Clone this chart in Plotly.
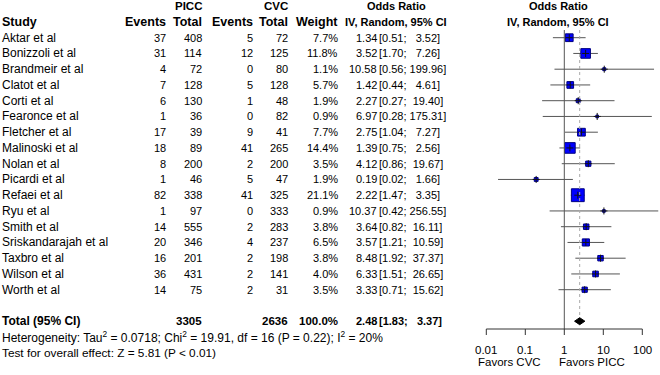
import math
import plotly.graph_objects as go

studies = ["Aktar et al", "Bonizzoli et al", "Brandmeir et al", "Clatot et al", "Corti et al",
           "Fearonce et al", "Fletcher et al", "Malinoski et al", "Nolan et al", "Picardi et al",
           "Refaei et al", "Ryu et al", "Smith et al", "Sriskandarajah et al", "Taxbro et al",
           "Wilson et al", "Worth et al"]
picc_events = [37, 31, 4, 7, 6, 1, 17, 18, 8, 1, 82, 1, 14, 20, 16, 36, 14]
picc_total = [408, 114, 72, 128, 130, 36, 39, 89, 200, 46, 338, 97, 555, 346, 201, 431, 75]
cvc_events = [5, 12, 0, 5, 1, 0, 9, 41, 2, 5, 41, 0, 2, 4, 2, 2, 2]
cvc_total = [72, 125, 80, 128, 48, 82, 41, 265, 200, 47, 325, 333, 283, 237, 198, 141, 31]
weights = [7.7, 11.8, 1.1, 5.7, 1.9, 0.9, 7.7, 14.4, 3.5, 1.9, 21.1, 0.9, 3.8, 6.5, 3.8, 4.0, 3.5]
odds = [1.34, 3.52, 10.58, 1.42, 2.27, 6.97, 2.75, 1.39, 4.12, 0.19, 2.22, 10.37, 3.64, 3.57, 8.48, 6.33, 3.33]
ci_low = [0.51, 1.70, 0.56, 0.44, 0.27, 0.28, 1.04, 0.75, 0.86, 0.02, 1.47, 0.42, 0.82, 1.21, 1.92, 1.51, 0.71]
ci_high = [3.52, 7.26, 199.96, 4.61, 19.40, 175.31, 7.27, 2.56, 19.67, 1.66, 3.35, 256.55, 16.11, 10.59, 37.37, 26.65, 15.62]
total_picc = 3305
total_cvc = 2636
pooled = [2.48, 1.83, 3.37]
axis_ticks = [0.01, 0.1, 1, 10, 100]
axis_tick_labels = ["0.01", "0.1", "1", "10", "100"]
heterogeneity = "Heterogeneity: Tau<sup>2</sup> = 0.0718; Chi<sup>2</sup> = 19.91, df = 16 (P = 0.22); I<sup>2</sup> = 20%"
overall = "Test for overall effect: Z = 5.81 (P < 0.01)"

W, H = 660, 375
ROW0, ROWH = 37.7, 15.75
FONT = "Liberation Sans, Arial, sans-serif"
FS = 11
NB = "\u00a0"


def row_of(py):
    return (py - ROW0) / ROWH


def px(x):
    return x / W


fig = go.Figure()
ann = []


def txt(x, r, s, anchor="left", bold=False, size=FS):
    if bold:
        s = "<b>" + s + "</b>"
    ann.append(dict(x=px(x), y=r, xref="paper", yref="y", text=s, showarrow=False,
                    xanchor=anchor, yanchor="middle", borderpad=0, borderwidth=0,
                    font=dict(family=FONT, size=size, color="black")))


# column positions
X_STUDY, X_PE, X_PT, X_CE, X_CT, X_W = 2, 166, 202, 252.5, 287.5, 338
X_OR, X_CI = 376.5, 379
X_ORHEAD, X_FHEAD = 396.5, 558
HS = 12.5

# headers
txt(X_PT, -2, "PICC", "right", True, 11.5)
txt(X_CT, -2, "CVC", "right", True, 11.5)
txt(X_ORHEAD, -2, "Odds Ratio", "center", True)
txt(X_FHEAD, -2, "Odds Ratio", "center", True)
txt(X_STUDY, -1, "Study", "left", True, HS)
txt(X_PE, -1, "Events", "right", True, HS)
txt(X_PT, -1, "Total", "right", True, HS)
txt(X_CE, -1, "Events", "right", True, HS)
txt(X_CT, -1, "Total", "right", True, HS)
txt(X_W, -1, "Weight", "right", True, HS)
txt(X_ORHEAD, -1, "IV, Random, 95% CI", "center", True)
txt(X_FHEAD, -1, "IV, Random, 95% CI", "center", True)


def ci_text(lo, hi):
    up = f"{hi:6.2f}".replace(" ", NB)
    return f"[{lo:.2f};{NB}{up}]"


for i, s in enumerate(studies):
    r = i
    txt(X_STUDY, r, s, size=12)
    txt(X_PE, r, str(picc_events[i]), "right")
    txt(X_PT, r, str(picc_total[i]), "right")
    txt(X_CE, r, str(cvc_events[i]), "right")
    txt(X_CT, r, str(cvc_total[i]), "right")
    txt(X_W, r, f"{weights[i]:.1f}%", "right")
    txt(X_OR, r, f"{odds[i]:.2f}", "right")
    txt(X_CI, r, ci_text(ci_low[i], ci_high[i]), "left")

RT = len(studies) + 1
txt(X_STUDY, RT, "Total (95% CI)", "left", True, 12)
txt(X_PT, RT, str(total_picc), "right", True, 11.5)
txt(X_CT, RT, str(total_cvc), "right", True, 11.5)
txt(X_W, RT, "100.0%", "right", True, 11.5)
txt(X_OR, RT, f"{pooled[0]:.2f}", "right", True)
txt(X_CI, RT, ci_text(pooled[1], pooled[2]), "left", True)
txt(X_STUDY, RT + 1, heterogeneity, "left", size=12)
txt(X_STUDY, RT + 2, overall, "left", size=11.8)

# forest plot
r_top = row_of(30)
r_axis = row_of(329)
r_dot_end = row_of(317)
shapes = []
shapes.append(dict(type="line", xref="x", yref="y", x0=1, x1=1, y0=r_top, y1=r_axis,
                   line=dict(color="#555555", width=1)))
shapes.append(dict(type="line", xref="x", yref="y", x0=pooled[0], x1=pooled[0], y0=r_top, y1=r_dot_end,
                   line=dict(color="#aaaaaa", width=1, dash="dot")))
shapes.append(dict(type="line", xref="x", yref="y", x0=axis_ticks[0], x1=axis_ticks[-1], y0=r_axis, y1=r_axis,
                   line=dict(color="#333333", width=1)))
tick_len = 6 / ROWH
for t, lab in zip(axis_ticks, axis_tick_labels):
    shapes.append(dict(type="line", xref="x", yref="y", x0=t, x1=t, y0=r_axis, y1=r_axis + tick_len,
                       line=dict(color="#333333", width=1)))
    ann.append(dict(x=math.log10(t), y=row_of(350), xref="x", yref="y", text=lab, showarrow=False,
                    xanchor="center", yanchor="middle", borderpad=0,
                    font=dict(family=FONT, size=11.5, color="black")))
ann.append(dict(x=px(509.5), y=row_of(362), xref="paper", yref="y", text="Favors CVC", showarrow=False,
                xanchor="center", yanchor="middle", borderpad=0, font=dict(family=FONT, size=11.5, color="black")))
ann.append(dict(x=px(592), y=row_of(362), xref="paper", yref="y", text="Favors PICC", showarrow=False,
                xanchor="center", yanchor="middle", borderpad=0, font=dict(family=FONT, size=11.5, color="black")))

rows = list(range(len(studies)))
# CI lines
lx, ly = [], []
for i in rows:
    lx += [ci_low[i], ci_high[i], None]
    ly += [i, i, None]
fig.add_trace(go.Scatter(x=lx, y=ly, mode="lines", line=dict(color="#555555", width=1), hoverinfo="skip"))
# squares
fig.add_trace(go.Scatter(x=odds, y=rows, mode="markers",
                         marker=dict(symbol="square", size=[2.8 * math.sqrt(w) for w in weights],
                                     color="#0000ff", opacity=1, line=dict(color="#000080", width=1)),
                         hoverinfo="skip"))
# centre marks
fig.add_trace(go.Scatter(x=odds, y=rows, mode="markers",
                         marker=dict(symbol="cross-thin", size=5, opacity=1, line=dict(color="#111111", width=1)),
                         hoverinfo="skip"))
# diamond
dh = 3.5 / ROWH
fig.add_trace(go.Scatter(x=[pooled[1], pooled[0], pooled[2], pooled[0], pooled[1]],
                         y=[RT, RT - dh, RT, RT + dh, RT], mode="lines", fill="toself",
                         fillcolor="black", line=dict(color="black", width=1), hoverinfo="skip"))

fig.update_layout(
    width=W, height=H, margin=dict(l=0, r=0, t=0, b=0),
    paper_bgcolor="white", plot_bgcolor="white", showlegend=False, hovermode=False,
    xaxis=dict(type="log", range=[-564.3 / 39, (W - 564.3) / 39], visible=False),
    yaxis=dict(range=[row_of(H), row_of(0)], visible=False),
    annotations=ann, shapes=shapes,
)
fig.write_html("out.html", config={"displayModeBar": False},
               post_script="document.body.style.margin='0';document.body.style.padding='0';")
